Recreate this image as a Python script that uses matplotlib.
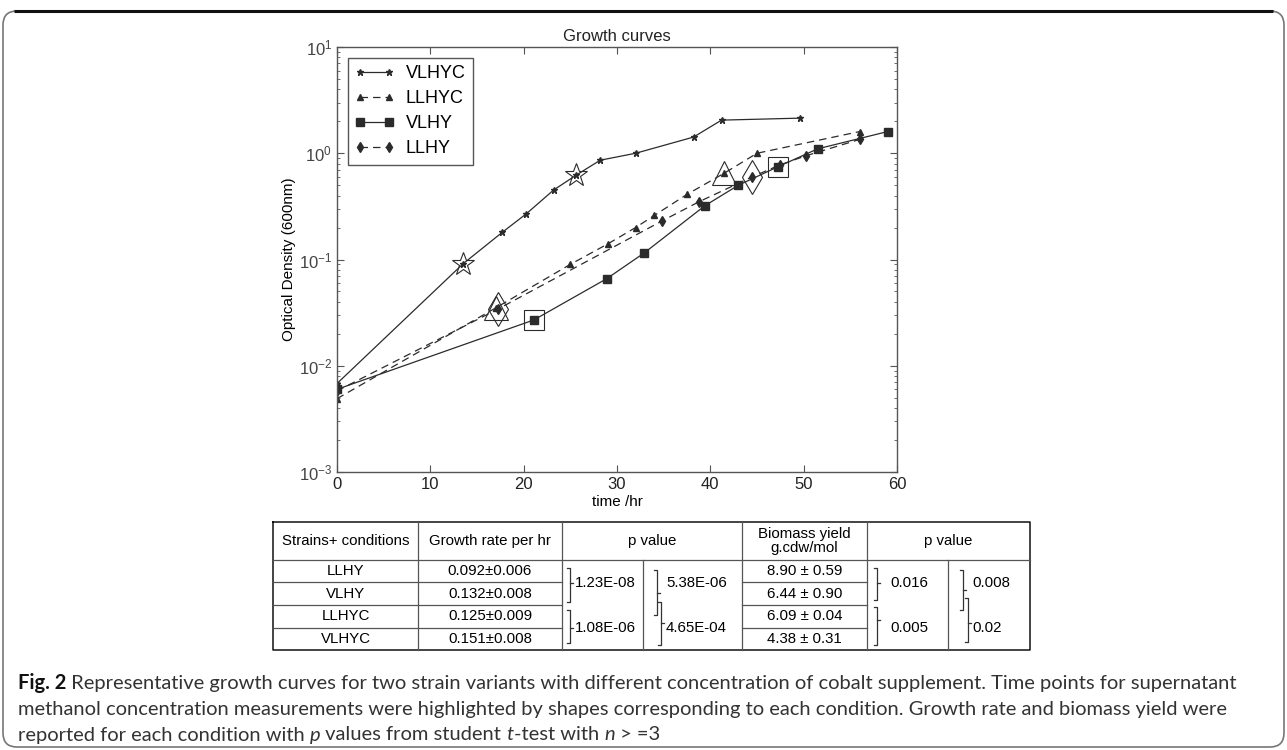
import matplotlib
matplotlib.use("Agg")
from matplotlib import pyplot as plt
from matplotlib.patches import FancyBboxPatch

# growth curve data (time in hr, OD600)
vlhyc_t = [0, 13.5, 17.7, 20.3, 23.2, 25.6, 28.2, 32.0, 38.2, 41.2, 49.6]
vlhyc_od = [0.0068, 0.091, 0.18, 0.27, 0.45, 0.62, 0.86, 1.0, 1.42, 2.05, 2.14]
vlhyc_hl = [1, 5]

llhyc_t = [0, 17.0, 25.0, 29.0, 32.0, 34.0, 37.5, 41.5, 45.0, 56.0]
llhyc_od = [0.0049, 0.035, 0.09, 0.14, 0.20, 0.26, 0.41, 0.65, 1.0, 1.6]
llhyc_hl = [1, 7]

vlhy_t = [0, 21.1, 28.9, 32.9, 39.4, 43.0, 47.3, 51.5, 59.0]
vlhy_od = [0.0060, 0.027, 0.066, 0.115, 0.32, 0.50, 0.75, 1.1, 1.6]
vlhy_hl = [1, 6]

llhy_t = [0, 17.2, 34.8, 38.8, 44.5, 47.5, 50.3, 56.0]
llhy_od = [0.0058, 0.034, 0.23, 0.35, 0.60, 0.78, 0.95, 1.35]
llhy_hl = [1, 4]

# table contents
strains = ["LLHY", "VLHY", "LLHYC", "VLHYC"]
growth_rate = ["0.092\u00b10.006", "0.132\u00b10.008", "0.125\u00b10.009", "0.151\u00b10.008"]
biomass = ["8.90 \u00b1 0.59", "6.44 \u00b1 0.90", "6.09 \u00b1 0.04", "4.38 \u00b1 0.31"]
p_growth_a = ["1.23E-08", "1.08E-06"]
p_growth_b = ["5.38E-06", "4.65E-04"]
p_bio_a = ["0.016", "0.005"]
p_bio_b = ["0.008", "0.02"]

W, H = 1287, 750
LINE = "#2b2b2b"
GREY = "#555555"

plt.rcParams['font.family'] = ['Liberation Sans', 'DejaVu Sans']
plt.rcParams['mathtext.fontset'] = 'dejavusans'
plt.rcParams['axes.unicode_minus'] = False

fig = plt.figure(figsize=(W / 100, H / 100), dpi=100)
ax = fig.add_axes([337 / W, 1 - 472 / H, 560 / W, 425 / H])

series = [
  ("VLHYC", vlhyc_t, vlhyc_od, vlhyc_hl, '-', '*', 5, 17),
  ("LLHYC", llhyc_t, llhyc_od, llhyc_hl, '--', '^', 5, 17),
  ("VLHY", vlhy_t, vlhy_od, vlhy_hl, '-', 's', 5.5, 15),
  ("LLHY", llhy_t, llhy_od, llhy_hl, '--', 'd', 5.5, 17),
]
for name, t, od, hl, ls, mk, ms, big in series:
  ax.plot(t, od, ls=ls, color=LINE, lw=0.9, marker=mk, ms=ms,
          mfc=LINE, mec=LINE, label=name, dashes=(6, 4) if ls == '--' else (None, None))
  ax.plot([t[i] for i in hl], [od[i] for i in hl], ls='none', marker=mk,
          ms=big, mfc='none', mec=LINE, mew=0.8)

ax.set_yscale('log')
ax.set_xlim(0, 60)
ax.set_ylim(1e-3, 1e1)
ax.set_title("Growth curves", fontsize=12, pad=4, color="#222222")
ax.set_xlabel("time /hr", fontsize=11, labelpad=2)
ax.set_ylabel("Optical Density (600nm)", fontsize=11, labelpad=2)
ax.tick_params(which='both', direction='in', top=True, right=True, colors=GREY)
ax.tick_params(which='major', length=5, labelsize=12, labelcolor="#222222")
ax.tick_params(which='minor', length=2.5)
ax.tick_params(axis='y', labelcolor="#444444")
for sp in ax.spines.values():
  sp.set_color(GREY)
  sp.set_linewidth(1.0)

leg = ax.legend(loc='upper left', fontsize=13, numpoints=2, handlelength=2.2,
                fancybox=False, edgecolor=LINE, borderaxespad=0.6,
                labelspacing=0.45, handletextpad=0.6, borderpad=0.4)
leg.get_frame().set_linewidth(1.0)

# overlay in pixel coordinates for the table, caption and frame
ov = fig.add_axes([0, 0, 1, 1])
ov.set_xlim(0, W)
ov.set_ylim(H, 0)
ov.axis('off')

ov.add_patch(FancyBboxPatch((3, 11), W - 6, H - 14, boxstyle="round,pad=0,rounding_size=14",
                            fc='none', ec="#777777", lw=1.2))
ov.plot([14, W - 14], [11, 11], color="#111111", lw=2.2, solid_capstyle='butt')

# table grid
tx0, tx1, ty0, ty1 = 273, 1030, 522, 650
cols = [418, 562, 742, 867]
row_y = [560, 582, 605, 628, 650]
ov.plot([tx0, tx1, tx1, tx0, tx0], [ty0, ty0, ty1, ty1, ty0], color="#111111", lw=1.1)
for cx in cols:
  ov.plot([cx, cx], [ty0, ty1], color=GREY, lw=0.9)
for cx in [643, 948]:
  ov.plot([cx, cx], [560, ty1], color=GREY, lw=0.9)
ov.plot([tx0, tx1], [560, 560], color=GREY, lw=0.9)
for ry in row_y[1:-1]:
  ov.plot([tx0, 562], [ry, ry], color=GREY, lw=0.9)
  ov.plot([742, 867], [ry, ry], color=GREY, lw=0.9)

tfs = 10.8
hdr_y = 541
ov.text((tx0 + 418) / 2, hdr_y, "Strains+ conditions", ha='center', va='center', fontsize=tfs)
ov.text((418 + 562) / 2, hdr_y, "Growth rate per hr", ha='center', va='center', fontsize=tfs)
ov.text((562 + 742) / 2, hdr_y, "p value", ha='center', va='center', fontsize=tfs)
ov.text((742 + 867) / 2, hdr_y, "Biomass yield\ng.cdw/mol", ha='center', va='center',
        fontsize=tfs, linespacing=1.0)
ov.text((867 + tx1) / 2, hdr_y, "p value", ha='center', va='center', fontsize=tfs)

for i in range(4):
  cy = (row_y[i] + row_y[i + 1]) / 2
  ov.text((tx0 + 418) / 2, cy, strains[i], ha='center', va='center', fontsize=tfs)
  ov.text((418 + 562) / 2, cy, growth_rate[i], ha='center', va='center', fontsize=tfs)
  ov.text((742 + 867) / 2, cy, biomass[i], ha='center', va='center', fontsize=tfs)


def bracket(x, y0, y1, ym):
  ov.plot([x - 3, x, x, x - 3], [y0, y0, y1, y1], color="#333333", lw=0.9)
  ov.plot([x, x + 3], [ym, ym], color="#333333", lw=0.9)


# p value brackets: (x, top, bottom, tick) for each pair
for vals, xs, spans, tx in [
    (p_growth_a, [570, 570], [(568, 602, 583), (610, 643, 628)], 575),
    (p_growth_b, [657, 661], [(570, 615, 593), (602, 645, 623)], 666),
    (p_bio_a, [877, 877], [(568, 600, 583), (607, 645, 620)], 890),
    (p_bio_b, [963, 968], [(570, 610, 590), (598, 642, 623)], 972)]:
  for j in range(2):
    bracket(xs[j], *spans[j])
    ov.text(tx, [583, 628][j], vals[j], ha='left', va='center', fontsize=tfs)

# caption
cap_font = ['Liberation Sans Narrow', 'Lato', 'DejaVu Sans']
cap_fs = 14.5
cap_lines = [
  [("Fig. 2", 'bold', 'normal', "#111111"),
   (" Representative growth curves for two strain variants with different concentration of "
    "cobalt supplement. Time points for supernatant", 'normal', 'normal', "#333333")],
  [("methanol concentration measurements were highlighted by shapes corresponding to each "
    "condition. Growth rate and biomass yield were", 'normal', 'normal', "#333333")],
  [("reported for each condition with ", 'normal', 'normal', "#333333"),
   ("p", 'normal', 'italic', "#333333"),
   (" values from student ", 'normal', 'normal', "#333333"),
   ("t", 'normal', 'italic', "#333333"),
   ("-test with ", 'normal', 'normal', "#333333"),
   ("n", 'normal', 'italic', "#333333"),
   (" > =3", 'normal', 'normal', "#333333")],
]
renderer = fig.canvas.get_renderer()
for li, runs in enumerate(cap_lines):
  x = 18
  y = 683 + 26 * li
  for txt, wt, st, col in runs:
    t_obj = ov.text(x, y, txt, ha='left', va='center', fontsize=cap_fs, family=cap_font,
                    weight=wt, style=st, color=col)
    bb = t_obj.get_window_extent(renderer=renderer)
    x += bb.width

fig.savefig("out.png", dpi=100)
